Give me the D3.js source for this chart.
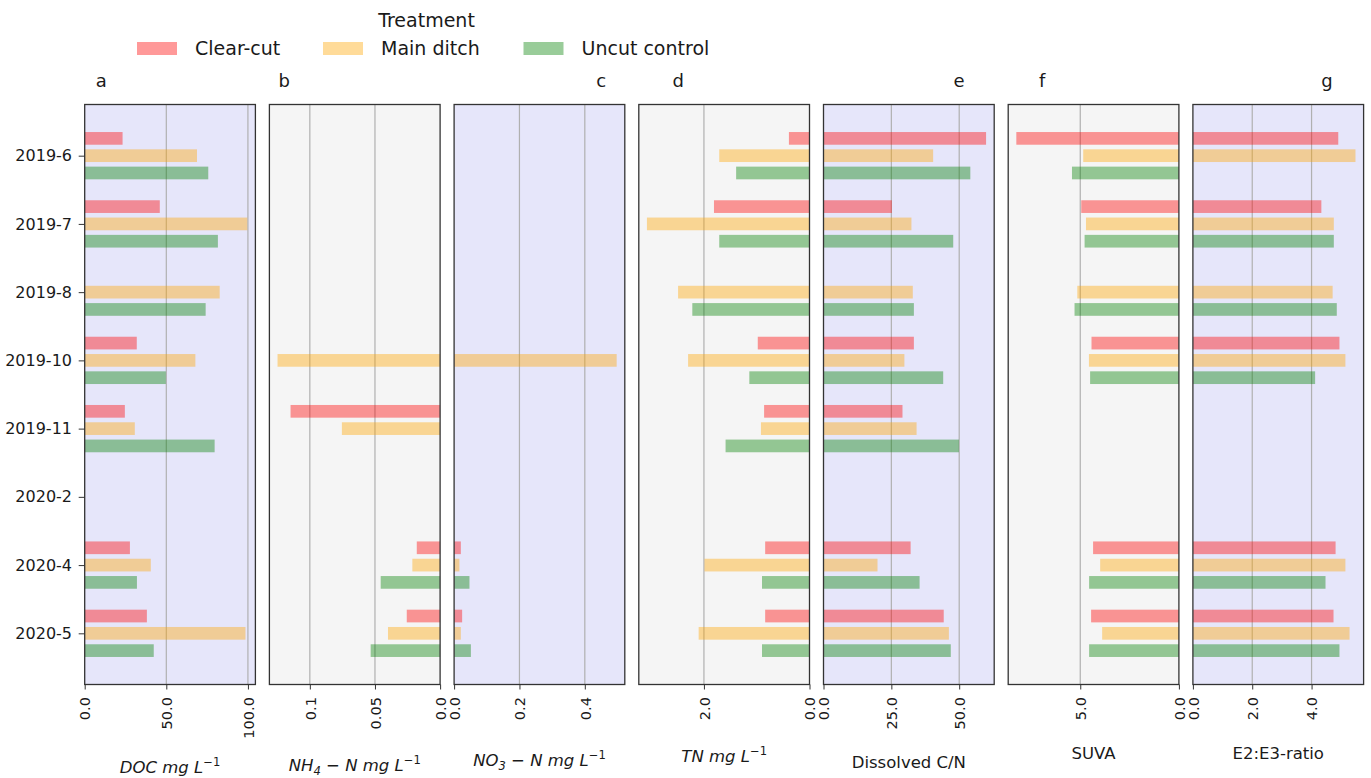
<!DOCTYPE html>
<html>
<head>
<meta charset="utf-8">
<script src="https://cdn.jsdelivr.net/npm/d3@7"></script>
<style>
  body { margin: 0; background: #fff; }
  svg { display: block; font-family: "DejaVu Sans", sans-serif; }
</style>
</head>
<body>
<svg id="chart" width="1371" height="778"></svg>
<script>
// ---- sampling dates and treatments ----
const categories = ["2019-6", "2019-7", "2019-8", "2019-10", "2019-11", "2020-2", "2020-4", "2020-5"];
const treatments = ["Clear-cut", "Main ditch", "Uncut control"];

// ---- measured values per treatment (null = no sample) ----
// DOC, mg L-1
const docClearCut   = [23.2, 46.0, null, 31.9, 24.6, null, 27.7, 38.1];
const docMainDitch  = [68.8, 99.6, 82.7, 67.8, 30.7, null, 40.5, 98.5];
const docUncut      = [75.7, 81.6, 74.1, 49.7, 79.6, null, 32.0, 42.3];
// NH4-N, mg L-1
const nh4ClearCut   = [null, null, null, null, 0.1148, null, 0.0179, 0.0256];
const nh4MainDitch  = [null, null, null, 0.1248, 0.0754, null, 0.0213, 0.0400];
const nh4Uncut      = [null, null, null, null, null, null, 0.0456, 0.0533];
// NO3-N, mg L-1
const no3ClearCut   = [null, null, null, null, null, null, 0.0206, 0.0246];
const no3MainDitch  = [null, null, null, 0.4975, null, null, 0.0163, 0.0206];
const no3Uncut      = [null, null, null, null, null, null, 0.0470, 0.0514];
// TN, mg L-1
const tnClearCut    = [0.39, 1.81, null, 0.98, 0.86, null, 0.84, 0.84];
const tnMainDitch   = [1.71, 3.08, 2.49, 2.30, 0.92, null, 1.99, 2.10];
const tnUncut       = [1.39, 1.71, 2.22, 1.14, 1.59, null, 0.90, 0.90];
// Dissolved C/N
const cnClearCut    = [59.9, 25.2, null, 33.3, 29.1, null, 32.1, 44.3];
const cnMainDitch   = [40.4, 32.4, 32.9, 29.8, 34.3, null, 19.9, 46.2];
const cnUncut       = [54.1, 47.8, 33.3, 44.1, 49.9, null, 35.4, 46.9];
// SUVA
const suvaClearCut  = [8.24, 4.95, null, 4.43, null, null, 4.35, 4.45];
const suvaMainDitch = [4.85, 4.71, 5.15, 4.56, null, null, 3.99, 3.89];
const suvaUncut     = [5.42, 4.78, 5.29, 4.50, null, null, 4.55, 4.55];
// E2:E3 ratio
const e2e3ClearCut  = [4.90, 4.33, null, 4.94, null, null, 4.81, 4.74];
const e2e3MainDitch = [5.48, 4.75, 4.71, 5.14, null, null, 5.14, 5.28];
const e2e3Uncut     = [null, 4.75, 4.85, 4.12, null, null, 4.47, 4.94];

// ---- tick values and their labels ----
const docTicks  = [0, 50, 100];    const docTickLabels  = ["0.0", "50.0", "100.0"];
const nh4Ticks  = [0, 0.05, 0.1];  const nh4TickLabels  = ["0.0", "0.05", "0.1"];
const no3Ticks  = [0, 0.2, 0.4];   const no3TickLabels  = ["0.0", "0.2", "0.4"];
const tnTicks   = [0, 2];          const tnTickLabels   = ["0.0", "2.0"];
const cnTicks   = [0, 25, 50];     const cnTickLabels   = ["0.0", "25.0", "50.0"];
const suvaTicks = [0, 5];          const suvaTickLabels = ["0.0", "5.0"];
const e2e3Ticks = [0, 2, 4];       const e2e3TickLabels = ["0.0", "2.0", "4.0"];

// ---- axis titles as [text, role] runs (i = italic, n = upright, sup/sub) ----
const docTitle  = [["DOC mg L", "i"], ["\u22121", "sup"]];
const nh4Title  = [["NH", "i"], ["4", "sub"], [" \u2212 ", "n"], ["N mg L", "i"], ["\u22121", "sup"]];
const no3Title  = [["NO", "i"], ["3", "sub"], [" \u2212 ", "n"], ["N mg L", "i"], ["\u22121", "sup"]];
const tnTitle   = [["TN mg L", "i"], ["\u22121", "sup"]];
const cnTitle   = [["Dissolved C/N", "n"]];
const suvaTitle = [["SUVA", "n"]];
const e2e3Title = [["E2:E3-ratio", "n"]];

const panelLetters = ["a", "b", "c", "d", "e", "f", "g"];

// ---- panel set-up built from the arrays above ----
const panels = [
  { series: [docClearCut, docMainDitch, docUncut],    ticks: docTicks,  tickLabels: docTickLabels,  title: docTitle,  reversed: false, bg: "#e6e6fa", letterDx: 16.5,  titleY: 773 },
  { series: [nh4ClearCut, nh4MainDitch, nh4Uncut],    ticks: nh4Ticks,  tickLabels: nh4TickLabels,  title: nh4Title,  reversed: true,  bg: "#f5f5f5", letterDx: 14.8,  titleY: 771 },
  { series: [no3ClearCut, no3MainDitch, no3Uncut],    ticks: no3Ticks,  tickLabels: no3TickLabels,  title: no3Title,  reversed: false, bg: "#e6e6fa", letterDx: 147,   titleY: 766 },
  { series: [tnClearCut, tnMainDitch, tnUncut],       ticks: tnTicks,   tickLabels: tnTickLabels,   title: tnTitle,   reversed: true,  bg: "#f5f5f5", letterDx: 39.5,  titleY: 762 },
  { series: [cnClearCut, cnMainDitch, cnUncut],       ticks: cnTicks,   tickLabels: cnTickLabels,   title: cnTitle,   reversed: false, bg: "#e6e6fa", letterDx: 135.5, titleY: 768 },
  { series: [suvaClearCut, suvaMainDitch, suvaUncut], ticks: suvaTicks, tickLabels: suvaTickLabels, title: suvaTitle, reversed: true,  bg: "#f5f5f5", letterDx: 34,    titleY: 759 },
  { series: [e2e3ClearCut, e2e3MainDitch, e2e3Uncut], ticks: e2e3Ticks, tickLabels: e2e3TickLabels, title: e2e3Title, reversed: false, bg: "#e6e6fa", letterDx: 134,   titleY: 759 }
];

// ---- layout ----
const firstLeft = 84.7, panelStep = 184.7, panelW = 170.7;
const plotTop = 104.5, plotBottom = 684.5;
const ink = "#1a1a1a";

const svg = d3.select("#chart");

const y = d3.scalePoint().domain(categories).range([plotTop, plotBottom]).padding(0.75);
const half = y.step() * 0.3466;
const inner = d3.scaleBand().domain(treatments).range([-half, half]).paddingInner(0.266);
const color = d3.scaleOrdinal().domain(treatments).range(["rgb(255,0,0)", "rgb(255,165,0)", "rgb(0,128,0)"]);
const barAlpha = 0.4;

panels.forEach((p, i) => {
  const left = firstLeft + i * panelStep;
  const right = left + panelW;
  const maxV = d3.max(p.series.flat().filter(v => v != null)) * 1.05;
  const x = d3.scaleLinear().domain([0, maxV]).range(p.reversed ? [right, left] : [left, right]);

  const g = svg.append("g");

  // panel background
  g.append("rect")
    .attr("x", left).attr("y", plotTop)
    .attr("width", panelW).attr("height", plotBottom - plotTop)
    .attr("fill", p.bg);

  // vertical grid lines
  g.selectAll("line.grid")
    .data(p.ticks.filter(t => t > 0))
    .join("line")
    .attr("class", "grid")
    .attr("x1", d => x(d)).attr("x2", d => x(d))
    .attr("y1", plotTop).attr("y2", plotBottom)
    .attr("stroke", "#b0b0b0").attr("stroke-width", 1.2);

  // bars
  treatments.forEach((t, k) => {
    const rows = categories
      .map((c, j) => ({ c, v: p.series[k][j] }))
      .filter(d => d.v != null);
    g.selectAll(null)
      .data(rows)
      .join("rect")
      .attr("x", d => Math.min(x(0), x(d.v)))
      .attr("width", d => Math.abs(x(d.v) - x(0)))
      .attr("y", d => y(d.c) + inner(t))
      .attr("height", inner.bandwidth())
      .attr("fill", color(t))
      .attr("fill-opacity", barAlpha);
  });

  // frame
  g.append("rect")
    .attr("x", left).attr("y", plotTop)
    .attr("width", panelW).attr("height", plotBottom - plotTop)
    .attr("fill", "none").attr("stroke", "#333").attr("stroke-width", 1.3);

  // bottom axis with vertical tick labels
  const ax = g.append("g")
    .attr("transform", `translate(0,${plotBottom})`)
    .call(d3.axisBottom(x).tickValues(p.ticks).tickFormat((d, j) => p.tickLabels[j]).tickSize(5));
  ax.select(".domain").remove();
  ax.selectAll(".tick line").attr("stroke", "#333").attr("stroke-width", 1);
  ax.selectAll(".tick text")
    .attr("transform", "rotate(-90)")
    .attr("x", -12.5).attr("y", 0).attr("dy", "0.36em")
    .attr("text-anchor", "end")
    .attr("font-size", 14.6)
    .attr("font-family", "DejaVu Sans")
    .attr("fill", ink);

  // panel letter
  g.append("text")
    .attr("x", left + p.letterDx).attr("y", 87)
    .attr("text-anchor", "middle")
    .attr("font-size", 18).attr("fill", ink)
    .text(panelLetters[i]);

  // axis title with sub/superscripts
  const fs = 16.5;
  const title = g.append("text")
    .attr("x", (left + right) / 2).attr("y", p.titleY)
    .attr("text-anchor", "middle")
    .attr("font-size", fs).attr("fill", ink);
  let shift = 0;
  p.title.forEach(([txt, role]) => {
    let target = 0, size = fs, style = "normal";
    if (role === "i") style = "italic";
    if (role === "sup") { target = -0.42 * fs; size = fs * 0.7; }
    if (role === "sub") { target = 0.22 * fs; size = fs * 0.7; style = "italic"; }
    title.append("tspan")
      .attr("dy", target - shift)
      .attr("font-size", size)
      .attr("font-style", style)
      .text(txt);
    shift = target;
  });

  // category axis on the first panel only
  if (i === 0) {
    const ay = g.append("g")
      .attr("transform", `translate(${left},0)`)
      .call(d3.axisLeft(y).tickSize(6).tickPadding(6.7));
    ay.select(".domain").remove();
    ay.selectAll(".tick line").attr("stroke", "#333").attr("stroke-width", 1);
    ay.selectAll(".tick text")
      .attr("font-size", 16)
      .attr("font-family", "DejaVu Sans")
      .attr("fill", ink);
  }
});

// ---- legend ----
const legend = svg.append("g");
legend.append("text")
  .attr("x", 426.5).attr("y", 27)
  .attr("text-anchor", "middle")
  .attr("font-size", 19).attr("fill", ink)
  .text("Treatment");

const legendSwatchX = [137, 323, 523.5];
treatments.forEach((t, k) => {
  legend.append("rect")
    .attr("x", legendSwatchX[k]).attr("y", 42)
    .attr("width", 40).attr("height", 13)
    .attr("fill", color(t)).attr("fill-opacity", barAlpha);
  legend.append("text")
    .attr("x", legendSwatchX[k] + 58).attr("y", 55)
    .attr("font-size", 19).attr("fill", ink)
    .text(t);
});
</script>
</body>
</html>
